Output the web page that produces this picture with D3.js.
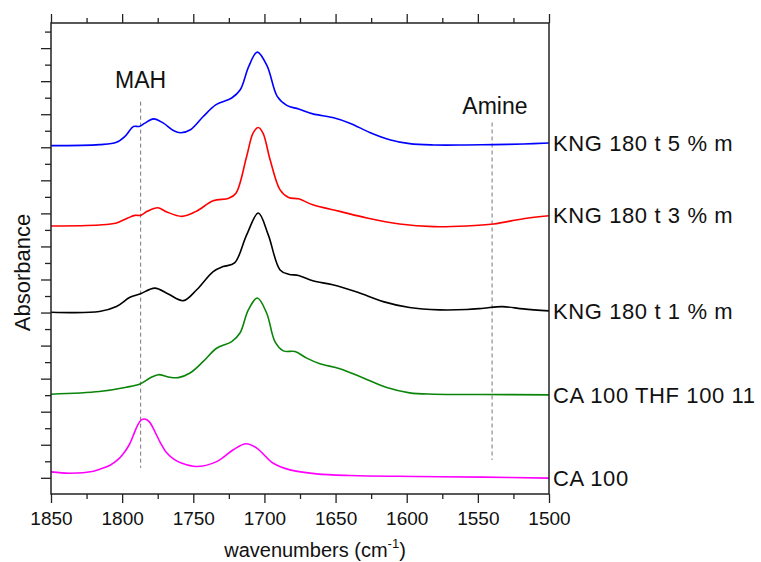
<!DOCTYPE html>
<html><head><meta charset="utf-8">
<script src="https://cdn.jsdelivr.net/npm/d3@7"></script>
<style>
body{margin:0;background:#fff}
text{font-family:"Liberation Sans",Arial,Helvetica,sans-serif;fill:#111}
</style>
</head><body>
<svg id="chart" width="761" height="562"></svg>
<script>
// ---- data (wavenumber cm-1, absorbance, offset stacked) ----
const blueWn  = [1850,1816,1804,1798,1792,1788,1784,1778,1771,1764,1759,1752,1743,1734,1723,1717,1711,1705,1698,1691,1684,1676,1666,1652,1640,1626,1612,1598,1581,1558,1539,1518,1500];
const blueAbs = [1.005,1.008,1.015,1.033,1.063,1.063,1.073,1.086,1.073,1.051,1.044,1.053,1.093,1.129,1.149,1.174,1.245,1.288,1.245,1.154,1.126,1.116,1.101,1.090,1.073,1.045,1.023,1.011,1.007,1.007,1.008,1.010,1.013];

const redWn  = [1850,1816,1804,1796,1791,1787,1782,1775,1769,1758,1748,1736,1725,1720,1712.5,1708,1704.3,1701,1696,1689,1683,1676,1666,1647,1628,1605,1581,1558,1539,1518,1500];
const redAbs = [0.762,0.765,0.771,0.786,0.794,0.794,0.807,0.817,0.805,0.791,0.806,0.838,0.846,0.861,0.972,1.043,1.060,1.043,0.962,0.871,0.848,0.844,0.826,0.806,0.786,0.768,0.760,0.762,0.768,0.784,0.793];

const blackWn  = [1850,1816,1804,1794.5,1787.5,1777,1767.6,1757,1747.6,1736,1729,1721,1712.5,1704.3,1697.3,1689,1683,1676,1666,1652,1635,1616.5,1598,1577,1558,1546,1533,1518,1500];
const blackAbs = [0.501,0.503,0.518,0.546,0.556,0.574,0.556,0.536,0.569,0.624,0.639,0.650,0.735,0.801,0.735,0.629,0.616,0.612,0.596,0.584,0.562,0.533,0.515,0.508,0.509,0.513,0.518,0.511,0.505];

const greenWn  = [1850,1816,1797,1787.5,1780.4,1774.6,1767.6,1760.5,1752.3,1743,1733.6,1723,1717.2,1711.3,1705,1698.4,1692.6,1686.7,1678.5,1670.3,1661,1647,1630.5,1614,1598,1581,1546,1500];
const greenAbs = [0.253,0.261,0.274,0.284,0.302,0.312,0.305,0.303,0.317,0.352,0.392,0.412,0.438,0.508,0.544,0.498,0.412,0.384,0.382,0.362,0.345,0.330,0.302,0.273,0.257,0.253,0.252,0.251];

const magentaWn  = [1850,1836.6,1820,1815.6,1808.5,1803,1799.2,1795,1792,1789,1786.5,1784.2,1781,1777,1773,1769,1764,1758,1748,1733.6,1721.9,1712.9,1705.4,1693.8,1682,1663.3,1640,1593,1546,1500];
const magentaAbs = [0.018,0.014,0.020,0.026,0.038,0.055,0.073,0.100,0.130,0.160,0.175,0.178,0.170,0.140,0.105,0.077,0.057,0.044,0.034,0.049,0.085,0.103,0.090,0.044,0.024,0.012,0.007,0.004,0.002,-0.001];

const seriesNames  = ["KNG 180 t 5 % m","KNG 180 t 3 % m","KNG 180 t 1 % m","CA 100 THF 100 11","CA 100"];
const seriesColors = ["#0000ff","#ff0000","#000000","#0a850a","#ff00ff"];

const xMajorTicks = [1850,1800,1750,1700,1650,1600,1550,1500];
const xMinorTicks = [1825,1775,1725,1675,1625,1575,1525];
const yMajorTicks = [0,0.1,0.2,0.3,0.4,0.5,0.6,0.7,0.8,0.9,1.0,1.1,1.2,1.3];
const yMinorTicks = [0.05,0.15,0.25,0.35,0.45,0.55,0.65,0.75,0.85,0.95,1.05,1.15,1.25,1.35];

// annotations: label, wavenumber, dashed line from/to absorbance, label absorbance
const annoNames = ["MAH","Amine"];
const annoWn    = [1787,1540];
const annoTop   = [1.138,1.075];
const annoBot   = [0.030,0.054];
const annoLabelWn  = [1787,1538];
const annoLabelAbs = [1.180,1.100];

const xLabel = "wavenumbers (cm";
const yLabel = "Absorbance";

// ---- layout ----
const L = 51, R = 549, T = 23, B = 494;
const svg = d3.select("#chart");
const x = d3.scaleLinear().domain([1850,1500]).range([L,R]);
const y = d3.scaleLinear().domain([-0.049,1.376]).range([B,T]);

const series = [
  {wn: blueWn, abs: blueAbs},
  {wn: redWn, abs: redAbs},
  {wn: blackWn, abs: blackAbs},
  {wn: greenWn, abs: greenAbs},
  {wn: magentaWn, abs: magentaAbs}
];

// dashed marker lines
annoNames.forEach((n,i)=>{
  svg.append("line")
    .attr("x1", x(annoWn[i])).attr("x2", x(annoWn[i]))
    .attr("y1", y(annoTop[i])).attr("y2", y(annoBot[i]))
    .attr("stroke","#777").attr("stroke-width",1).attr("stroke-dasharray","4,3");
  svg.append("text")
    .attr("x", x(annoLabelWn[i])).attr("y", y(annoLabelAbs[i]))
    .attr("text-anchor","middle").attr("font-size",23).text(n);
});

// curves
const line = d3.line().curve(d3.curveCatmullRom.alpha(0.5));
series.forEach((s,i)=>{
  const pts = s.wn.map((w,j)=>[x(w), y(s.abs[j])]);
  svg.append("path").attr("d", line(pts)).attr("fill","none")
    .attr("stroke", seriesColors[i]).attr("stroke-width",1.6);
  svg.append("text")
    .attr("x", R + 4).attr("y", y(s.abs[s.abs.length-1]))
    .attr("dy","0.35em").attr("font-size",22).attr("letter-spacing",0.6).text(seriesNames[i]);
});

// axes
const axCol = "#222";
function styleAxis(g){ g.select(".domain").remove(); g.selectAll("line").attr("stroke",axCol).attr("stroke-width",1.3); }

svg.append("g").attr("transform",`translate(0,${B})`)
  .call(d3.axisBottom(x).tickValues(xMajorTicks).tickSize(9).tickPadding(9).tickFormat(d3.format("d")))
  .call(styleAxis)
  .call(g=>g.selectAll("text").attr("font-size",19).attr("fill","#111").attr("font-family",null));
svg.append("g").attr("transform",`translate(0,${B})`)
  .call(d3.axisBottom(x).tickValues(xMinorTicks).tickSize(5).tickFormat(""))
  .call(styleAxis);
svg.append("g").attr("transform",`translate(0,${T})`)
  .call(d3.axisTop(x).tickValues(xMajorTicks).tickSize(9).tickFormat(""))
  .call(styleAxis);
svg.append("g").attr("transform",`translate(0,${T})`)
  .call(d3.axisTop(x).tickValues(xMinorTicks).tickSize(5).tickFormat(""))
  .call(styleAxis);
svg.append("g").attr("transform",`translate(${L},0)`)
  .call(d3.axisLeft(y).tickValues(yMajorTicks).tickSize(10).tickFormat(""))
  .call(styleAxis);
svg.append("g").attr("transform",`translate(${L},0)`)
  .call(d3.axisLeft(y).tickValues(yMinorTicks).tickSize(6).tickFormat(""))
  .call(styleAxis);

svg.append("rect").attr("x",L).attr("y",T).attr("width",R-L).attr("height",B-T)
  .attr("fill","none").attr("stroke",axCol).attr("stroke-width",1.5);

// axis titles
const xt = svg.append("text").attr("x", 315).attr("y", 557).attr("text-anchor","middle").attr("font-size",20);
xt.append("tspan").text(xLabel);
xt.append("tspan").attr("font-size",13).attr("dy","-0.7em").text("-1");
xt.append("tspan").attr("dy","0.45em").text(")");

svg.append("text").attr("transform",`translate(30,${(T+B)/2+14}) rotate(-90)`)
  .attr("text-anchor","middle").attr("font-size",22).text(yLabel);
</script>
</body></html>
